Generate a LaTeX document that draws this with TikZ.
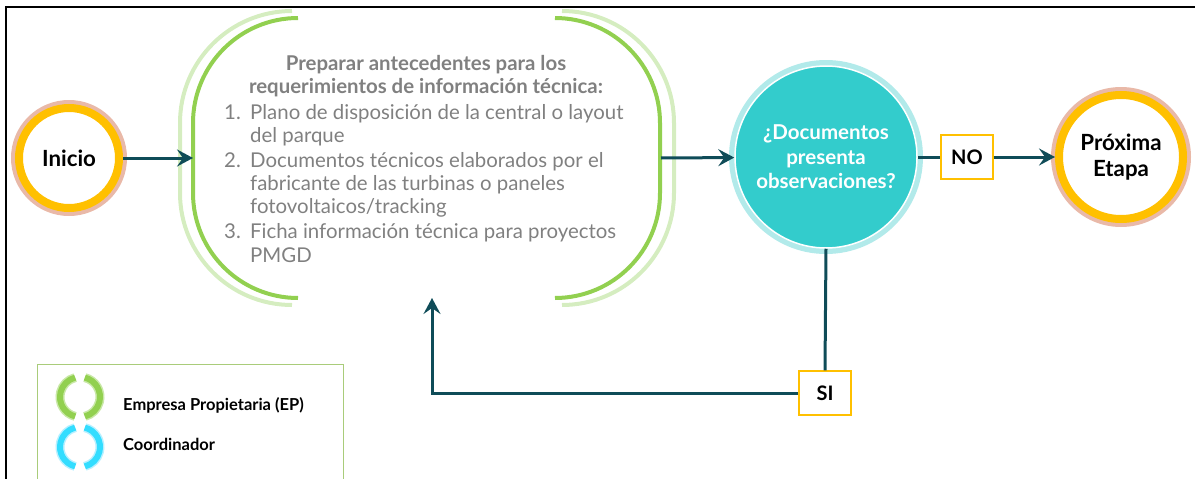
\documentclass[tikz,border=0pt]{standalone}
\usepackage{fontspec}
\setmainfont{Lato}
\usetikzlibrary{arrows.meta}
\definecolor{arrC}{HTML}{0F4C58}
\definecolor{grnD}{HTML}{92D050}
\definecolor{grnL}{HTML}{D5EDC0}
\definecolor{ornC}{HTML}{FFC000}
\definecolor{glowO}{HTML}{E9B9A8}
\definecolor{tealC}{HTML}{33CCCC}
\definecolor{glowT}{HTML}{B2EAEA}
\definecolor{grayT}{HTML}{808080}
\definecolor{yelB}{HTML}{FFC000}
\definecolor{legB}{HTML}{A9CC7A}
\definecolor{cyanC}{HTML}{33DDFF}
\definecolor{cyanL}{HTML}{B8F0FF}
\definecolor{grnG}{HTML}{C9E8A8}
\tikzset{
  conn/.style={draw=arrC, line width=3pt},
  arrowS/.style={conn, -{Stealth[length=16pt,width=17pt,inset=6pt]}},
  term/.style={circle, fill=white, draw=ornC, line width=8pt, inner sep=0pt, font=\fontsize{22.3}{26}\selectfont\bfseries, align=center},
  lbl/.style={draw=yelB, line width=1.2pt, fill=white, minimum width=52pt, minimum height=44pt, inner sep=0pt, font=\fontsize{20}{24}\selectfont\bfseries},
  txt/.style={text=grayT, font=\fontsize{20.4}{24}\selectfont, inner sep=0pt, anchor=base west},
  ttl/.style={text=grayT, font=\fontsize{20.4}{23.5}\selectfont\bfseries, inner sep=0pt, align=center},
  legT/.style={font=\fontsize{16.5}{18}\selectfont\bfseries, inner sep=0pt, anchor=base west},
}
\begin{document}
\begin{tikzpicture}[x=1pt,y=-1pt]
\useasboundingbox (0,0) rectangle (1195,479);
% frame
\draw[line width=2.5pt] (6,479) -- (6,7) -- (1195,7);
% coordinates
\coordinate (cI) at (69,158);
\coordinate (cD) at (826,157);
\coordinate (cP) at (1121,157);
\coordinate (bl) at (193,158);
\coordinate (br) at (661,158);
\coordinate (ret) at (432,298);
% brackets
\draw[grnL, line width=4pt, rounded corners=112pt] (292,11) -- (180,11) -- (180,305) -- (292,305);
\draw[grnD, line width=4pt, rounded corners=105pt] (298,18) -- (193,18) -- (193,298) -- (298,298);
\draw[grnL, line width=4pt, rounded corners=112pt] (562,11) -- (674,11) -- (674,305) -- (562,305);
\draw[grnD, line width=4pt, rounded corners=105pt] (555,18) -- (660,18) -- (660,298) -- (555,298);
% text
\node[ttl, anchor=base] (title) at (426,70) {Preparar antecedentes para los};
\node[ttl, anchor=base] (title2) at (426,93) {requerimientos de información técnica:};
\node[txt] (n1) at (224,119) {1.};
\node[txt] (l1) at (250,119) {Plano de disposición de la central o layout};
\node[txt] (l1b) at (250,142) {del parque};
\node[txt] (n2) at (224,167) {2.};
\node[txt] (l2) at (250,167) {Documentos técnicos elaborados por el};
\node[txt] (l2b) at (250,190) {fabricante de las turbinas o paneles};
\node[txt] (l2c) at (250,213) {fotovoltaicos/tracking};
\node[txt] (n3) at (224,238) {3.};
\node[txt] (l3) at (250,238) {Ficha información técnica para proyectos};
\node[txt] (l3b) at (250,262) {PMGD};
% glows
\fill[glowO] (cI) circle (58);
\fill[glowO] (cP) circle (70);
\fill[glowT] (cD) circle (97);
% nodes
\node[term, minimum size=100pt] (inicio) at (cI) {Inicio};
\node[term, minimum size=124pt] (prox) at (cP) {Próxima\\Etapa};
\node[circle, fill=tealC, draw=white, line width=1.5pt, minimum size=182pt, inner sep=0pt, text=white, align=center, font=\fontsize{20.5}{24.5}\selectfont\bfseries] (dec) at (cD) {¿Documentos\\presenta\\observaciones?};
\node[lbl] (no) at (967,157) {NO};
\node[lbl] (si) at (825,393) {SI};
% connectors
\draw[arrowS] (inicio) -- (bl);
\draw[arrowS] (br) -- (dec);
\draw[conn] (dec) -- (no);
\draw[arrowS] (no) -- (prox);
\draw[conn] (dec.south) -- (si.north);
\draw[arrowS] (si.west) -| (ret);
% legend
\draw[legB, line width=1pt] (37,480) -- (37,364) -- (343,364) -- (343,480);
\foreach \cy/\cg/\cc in {397/grnG/grnD, 447/cyanL/cyanC}{
  \draw[\cg, line width=9pt] (80,\cy) ++(104:20) arc (104:256:20);
  \draw[\cg, line width=9pt] (80,\cy) ++(-76:20) arc (-76:76:20);
  \draw[\cc, line width=6pt] (80,\cy) ++(104:20) arc (104:256:20);
  \draw[\cc, line width=6pt] (80,\cy) ++(-76:20) arc (-76:76:20);
}
\node[legT] (lg1) at (123,410) {Empresa Propietaria (EP)};
\node[legT] (lg2) at (123,450) {Coordinador};
\end{tikzpicture}
\end{document}
